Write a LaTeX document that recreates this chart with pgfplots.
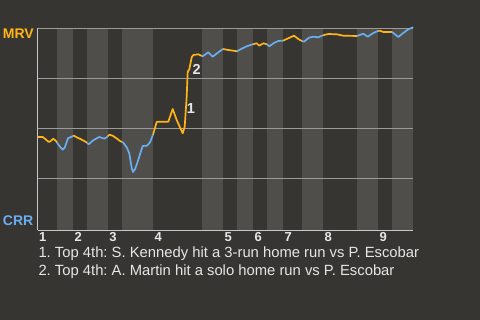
\documentclass[border=0pt]{standalone}
\usepackage{pgfplots}
\pgfplotsset{compat=1.18}
\usepackage{fontspec}
\setmainfont{Liberation Sans}
\frenchspacing
\definecolor{bg}{HTML}{373532}
\definecolor{band}{HTML}{504E4B}
\definecolor{mrv}{HTML}{FFB517}
\definecolor{crr}{HTML}{6AAEF0}
\definecolor{gridc}{HTML}{9A9A9A}
\definecolor{axl}{HTML}{C8C8C8}
\definecolor{txt}{HTML}{E6E6E6}
\begin{document}
\begin{tikzpicture}
\pgfplotsset{set layers}
\begin{pgfonlayer}{axis background}
\fill[bg] (0pt,0pt) rectangle (480pt,320pt);
\end{pgfonlayer}
\begin{axis}[
  at={(37.5pt,89.7pt)}, anchor=south west,
  scale only axis, width=375.8pt, height=202pt,
  xmin=37.5, xmax=413.3, ymin=-1, ymax=100,
  axis x line*=bottom, axis y line*=left,
  axis line style={axl, line width=1pt, -},
  ytick={25,50,75,100}, yticklabels={},
  ymajorgrids, grid style={gridc, line width=0.8pt},
  xtick={37.5,73,107.7,153,223,253,283,323,378},
  xticklabels={1,2,3,4,5,6,7,8,9},
  major tick length=0pt,
  xticklabel style={anchor=north west, inner sep=0pt, xshift=1.5pt, yshift=-2pt,
    font=\bfseries\fontsize{13}{13}\selectfont, text=txt},
  clip=false,
  every axis plot/.append style={line width=1.7pt, line join=round},
  bandst/.style={fill=band, draw=none, on layer=axis background},
]
\addplot[bandst] coordinates {(57,-1)(57,100)(73,100)(73,-1)} -- cycle;
\addplot[bandst] coordinates {(87,-1)(87,100)(107.7,100)(107.7,-1)} -- cycle;
\addplot[bandst] coordinates {(122,-1)(122,100)(153,100)(153,-1)} -- cycle;
\addplot[bandst] coordinates {(202,-1)(202,100)(223,100)(223,-1)} -- cycle;
\addplot[bandst] coordinates {(237,-1)(237,100)(253,100)(253,-1)} -- cycle;
\addplot[bandst] coordinates {(267,-1)(267,100)(283,100)(283,-1)} -- cycle;
\addplot[bandst] coordinates {(302,-1)(302,100)(323,100)(323,-1)} -- cycle;
\addplot[bandst] coordinates {(357,-1)(357,100)(378,100)(378,-1)} -- cycle;
\addplot[bandst] coordinates {(392,-1)(392,100)(413.3,100)(413.3,-1)} -- cycle;
% top halves (MRV batting)
\addplot[mrv] coordinates {(37.5,45.65)(42.7,45.65)(45.3,44.65)(48.7,43.15)(50.7,43.65)(53.3,44.8)(56,43.65)(57,42.9)};
\addplot[mrv] coordinates {(73,46.15)(74,46.3)(76.7,45.5)(81,44.5)(86,43.15)(87,42.75)};
\addplot[mrv] coordinates {(107.7,46.0)(109.3,46.8)(112.7,46.3)(117,44.8)(120,43.65)(122,43.15)};
\addplot[mrv] coordinates {(153,46.8)(156.7,53.15)(158.7,53.3)(163.3,53.3)(168.3,53.3)(172.7,59.65)(176.7,54.15)(182.7,47.5)(184.7,50.8)(186.7,65.8)(187.7,78.3)(189.3,79.5)(191.7,85.5)(193.3,86.65)(198.3,87.0)(202,86.15)};
\addplot[mrv] coordinates {(223,89.65)(228.3,89.15)(233.3,88.8)(237,88.5)};
\addplot[mrv] coordinates {(253,92.0)(256.7,92.5)(259.3,91.3)(263.3,92.5)(267,92.0)};
\addplot[mrv] coordinates {(283,93.8)(287.3,94.8)(294,96.3)(299.3,94.3)(302,93.65)};
\addplot[mrv] coordinates {(323,96.5)(328.3,97.15)(336.7,97.0)(343.3,96.3)(357,96.15)};
\addplot[mrv] coordinates {(378,98.65)(380,98.8)(383.3,98.15)(392,98.15)};
% bottom halves (CRR batting)
\addplot[crr] coordinates {(57,42.9)(58,42.15)(60,40.8)(62.7,39.3)(64.7,40.3)(68,45.0)(71,45.65)(73,46.15)};
\addplot[crr] coordinates {(87,42.75)(88.7,42.0)(92.7,43.8)(96,44.8)(99.3,45.65)(101.3,45.3)(104.3,44.8)(107,45.65)(107.7,46.0)};
\addplot[crr] coordinates {(122,43.15)(123.3,42.8)(126.7,40.5)(129.3,37.5)(131.7,30.15)(133,28.15)(135,29.5)(137.7,33.3)(140.3,37.5)(142.7,41.15)(147,41.3)(150,43.0)(153,46.8)};
\addplot[crr] coordinates {(202,86.15)(202.7,86.0)(208.3,88.0)(212.7,85.8)(218.3,88.0)(223,89.65)};
\addplot[crr] coordinates {(237,88.5)(241.7,89.8)(246.7,91.0)(252.7,92.0)(253,92.0)};
\addplot[crr] coordinates {(267,92.0)(269.3,91.0)(274,92.65)(278.3,93.65)(283,93.8)};
\addplot[crr] coordinates {(302,93.65)(304,93.3)(309,95.3)(313.3,95.8)(318.3,95.5)(323,96.5)};
\addplot[crr] coordinates {(357,96.15)(363.3,97.3)(367.7,95.8)(373.3,97.65)(378,98.65)};
\addplot[crr] coordinates {(392,98.15)(398.3,95.65)(403.3,97.65)(408.3,99.5)(413.3,100.5)};
\node[text=txt, font=\bfseries\fontsize{14.5}{14.5}\selectfont, inner sep=0pt] at (axis cs:190.8,59.8) {1};
\node[text=txt, font=\bfseries\fontsize{14.5}{14.5}\selectfont, inner sep=0pt] at (axis cs:196.7,79.65) {2};
\end{axis}
\node[anchor=west, inner sep=0pt, text=mrv, font=\bfseries\fontsize{14}{14}\selectfont] at (2.7pt,286pt) {MRV};
\node[anchor=west, inner sep=0pt, text=crr, font=\bfseries\fontsize{14}{14}\selectfont] at (2.7pt,99.5pt) {CRR};
\node[anchor=base west, inner sep=0pt, text=txt, font=\fontsize{14.8}{14.8}\selectfont] at (38.3pt,62pt) {1. Top 4th: S. Kennedy hit a 3-run home run vs P. Escobar};
\node[anchor=base west, inner sep=0pt, text=txt, font=\fontsize{14.8}{14.8}\selectfont] at (38.3pt,44.3pt) {2. Top 4th: A. Martin hit a solo home run vs P. Escobar};
\end{tikzpicture}
\end{document}
